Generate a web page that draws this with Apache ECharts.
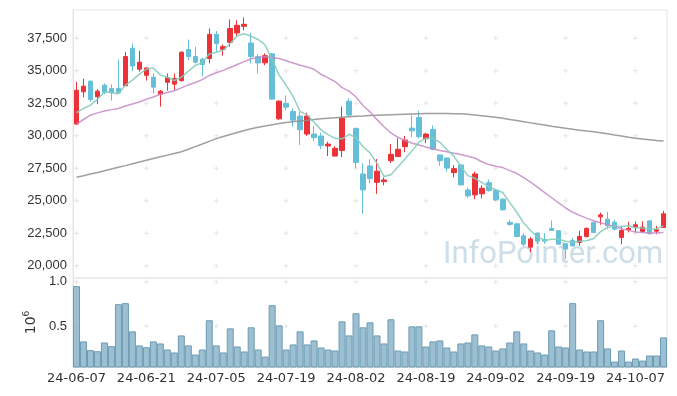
<!DOCTYPE html>
<html>
<head>
<meta charset="utf-8">
<script src="https://cdn.jsdelivr.net/npm/echarts@6/dist/echarts.min.js"></script>
<style>
html,body{margin:0;padding:0;background:#fff;}
#chart{width:677px;height:396px;}
</style>
</head>
<body>
<div id="chart"></div>
<script>
const dates = ['24-06-07','24-06-10','24-06-11','24-06-12','24-06-13','24-06-14','24-06-17','24-06-18','24-06-19','24-06-20',
'24-06-21','24-06-24','24-06-25','24-06-26','24-06-27','24-06-28','24-07-01','24-07-02','24-07-03','24-07-04',
'24-07-05','24-07-08','24-07-09','24-07-10','24-07-11','24-07-12','24-07-15','24-07-16','24-07-17','24-07-18',
'24-07-19','24-07-22','24-07-23','24-07-24','24-07-25','24-07-26','24-07-29','24-07-30','24-07-31','24-08-01',
'24-08-02','24-08-05','24-08-06','24-08-07','24-08-08','24-08-09','24-08-12','24-08-13','24-08-14','24-08-16',
'24-08-19','24-08-20','24-08-21','24-08-22','24-08-23','24-08-26','24-08-27','24-08-28','24-08-29','24-08-30',
'24-09-02','24-09-03','24-09-04','24-09-05','24-09-06','24-09-09','24-09-10','24-09-11','24-09-12','24-09-13',
'24-09-19','24-09-20','24-09-23','24-09-24','24-09-25','24-09-26','24-09-27','24-09-30','24-10-02','24-10-04',
'24-10-07','24-10-08','24-10-10','24-10-11','24-10-14'];

const opens = [30900,33380,34200,33000,33890,33640,33640,33850,36730,35120,
34650,34500,33200,34110,33970,34240,36630,36100,35890,35940,
37800,36650,37190,37910,38420,37140,36090,35610,36300,31300,
32490,31870,31510,30130,30130,29980,29210,28440,28860,32660,
30570,27060,27680,26420,26470,28080,28400,29160,30590,31410,
29770,30490,28520,28290,27160,27750,25830,25450,25530,26390,
25810,25120,23330,23220,22300,21430,22510,22020,22870,22690,
21690,21940,21790,22250,23330,23760,23580,23350,22180,22760,
22970,22640,23450,22660,22940];

const closes = [33500,33815,32790,33430,33320,33300,33300,36095,35370,35660,
35220,33740,33430,34470,34410,36425,36090,35660,35480,37800,
37090,36850,38250,38500,38575,36090,35600,36160,32820,32660,
32200,31200,30460,31510,29850,29240,29360,29030,31350,31590,
27950,25830,26700,27270,26600,28570,28960,29670,30380,29930,
30130,28960,28080,27510,27470,26220,25370,27060,25960,25780,
25070,24300,23180,22250,21660,22050,21890,21890,22710,21660,
21280,21530,22250,22870,22560,23910,23070,22820,22710,22870,
23150,22970,22460,22760,23990];

const highs = [34150,34400,34250,33585,34030,33970,35860,36450,37100,36540,
35250,34790,33510,34790,34790,36500,37400,36850,36000,38250,
38060,37030,38950,38880,39100,37910,36270,36340,36340,32740,
33090,32100,31840,31770,30770,30230,29540,29200,32240,32890,
30600,27880,28190,28210,26800,29360,29810,29980,31570,31920,
30230,30800,28540,28300,27740,27800,26010,27240,26190,26650,
25900,25200,23530,23300,22500,22200,22560,22510,23480,22720,
21720,22120,22690,22950,23400,24090,24140,23530,23070,23380,
23400,23420,23530,23070,24220];

const lows = [30820,32950,32610,32430,33200,32700,33220,33830,34970,34930,
34240,33250,32240,33470,33510,34170,35810,35560,34550,35560,
36450,36160,36850,37600,38110,35560,34790,35430,32780,31200,
31970,30690,29290,29980,29590,28960,28440,28400,28360,31510,
27510,23990,26350,25530,26190,27900,28390,28740,29880,29800,
29430,28880,27680,27240,26800,26180,25220,25120,25170,25700,
24980,24250,23070,22200,21490,21050,21610,21680,22690,21620,
20510,21480,21530,22170,22510,23150,22820,22710,21660,22560,
22560,22560,22400,22430,22900];

// volume in millions of shares (axis unit 10^6)
const volumes = [0.951,0.331,0.233,0.221,0.319,0.278,0.748,0.760,0.444,0.286,
0.266,0.331,0.308,0.240,0.207,0.398,0.286,0.184,0.240,0.568,
0.286,0.207,0.477,0.274,0.218,0.489,0.240,0.161,0.737,0.511,
0.240,0.297,0.444,0.297,0.342,0.263,0.240,0.229,0.556,0.398,
0.647,0.489,0.545,0.398,0.308,0.579,0.229,0.218,0.500,0.500,
0.274,0.331,0.342,0.263,0.218,0.308,0.319,0.410,0.286,0.274,
0.229,0.252,0.319,0.444,0.308,0.229,0.207,0.184,0.455,0.274,
0.263,0.760,0.240,0.218,0.218,0.568,0.252,0.105,0.229,0.105,
0.139,0.116,0.173,0.173,0.376];

const ma5 = [31770,32100,32360,32800,33371,33331,33228,33889,34277,34745,
35129,35217,34684,34504,34254,34495,34965,35411,35613,36291,
36424,36576,37094,37698,37853,37653,37403,36985,35849,34666,
33888,33008,31868,31606,31044,30452,30084,29798,29766,30114,
29856,29150,28684,27868,26870,26994,27620,28214,28836,29502,
29814,29814,29496,28922,28430,27648,26930,26726,26416,26078,
25848,25634,24858,24116,23292,22688,22206,21948,22040,22040,
21886,21814,21886,21918,22098,22624,22932,23046,23014,23076,
22924,22904,22832,22842,23066];

const ma20 = [30900,31250,31580,31760,31910,32010,32100,32290,32440,32600,
32820,32980,33190,33330,33460,33680,33910,34100,34320,34640,
34850,35030,35250,35480,35700,35920,36030,36070,36020,35940,
35770,35600,35420,35290,35110,34730,34450,34170,33700,33430,
32980,32330,31840,31240,30690,30220,29880,29640,29440,29290,
29140,29000,28860,28770,28660,28550,28420,28290,28000,27780,
27650,27550,27320,27110,26780,26430,26030,25630,25230,24840,
24440,24110,23870,23660,23460,23300,23160,23020,22850,22720,
22600,22550,22510,22520,22560];

const ma120 = [26810,26930,27060,27180,27310,27440,27570,27700,27840,27980,
28120,28250,28380,28510,28640,28770,28960,29160,29360,29570,
29780,29940,30100,30250,30400,30540,30650,30750,30850,30940,
31020,31080,31140,31200,31250,31300,31340,31380,31420,31460,
31500,31520,31550,31570,31590,31610,31630,31650,31670,31690,
31710,31720,31720,31710,31700,31690,31650,31600,31540,31480,
31420,31340,31250,31170,31080,30990,30900,30820,30730,30650,
30570,30500,30430,30360,30300,30230,30150,30060,29980,29890,
29810,29750,29700,29640,29590];

const priceTicks = [20000,22500,25000,27500,30000,32500,35000,37500];
const volumeTicks = [0.5,1.0];
const markerCategories = [0,10,20,30,40,50,60,70,80];

const candleData = dates.map((d,i)=>[opens[i],closes[i],lows[i],highs[i]]);
const priceMarkers = [];
markerCategories.forEach(c=>priceTicks.forEach(v=>priceMarkers.push([c,v])));
const volMarkers = [];
markerCategories.forEach(c=>volumeTicks.forEach(v=>volMarkers.push([c,v])));

const plusPath = 'path://M2,0L3,0L3,2L5,2L5,3L3,3L3,5L2,5L2,3L0,3L0,2L2,2Z';
const UP = '#ec3238', DOWN = '#66bfd8';

const chart = echarts.init(document.getElementById('chart'), null, {renderer:'canvas'});
chart.setOption({
  animation:false,
  backgroundColor:'#fff',
  grid:[
    {left:73, right:10, top:10, height:268, show:true, borderColor:'#e4e4e4', borderWidth:1},
    {left:73, right:10, top:278, height:89, show:true, borderColor:'#e4e4e4', borderWidth:1}
  ],
  graphic:[{
    type:'text', left:443, top:240, z:0, silent:true,
    style:{text:'InfoPointer.com', font:'31px Roboto', fill:'rgba(172,200,218,0.6)'}
  }],
  xAxis:[
    {type:'category', gridIndex:0, data:dates, boundaryGap:true,
     axisLine:{show:false}, axisTick:{show:false}, axisLabel:{show:false}, splitLine:{show:false}},
    {type:'category', gridIndex:1, data:dates, boundaryGap:true,
     axisLine:{show:true, lineStyle:{color:'#e4e4e4'}}, axisTick:{show:false},
     axisLabel:{interval:9, color:'#333', fontSize:13, fontFamily:'DejaVu Sans', margin:5},
     splitLine:{show:false}}
  ],
  yAxis:[
    {type:'value', gridIndex:0, min:19055, max:39675, scale:true,
     axisLine:{show:true, lineStyle:{color:'#e4e4e4'}}, axisTick:{show:false},
     axisLabel:{customValues:priceTicks, color:'#333', fontSize:13, fontFamily:'Liberation Sans', margin:6},
     splitLine:{show:false}},
    {type:'value', gridIndex:1, min:0.044, max:1.042,
     name:'{a|10}{b|6}', nameLocation:'middle', nameGap:32, nameRotate:90,
     nameTextStyle:{rich:{a:{fontSize:14, fontFamily:'DejaVu Sans', color:'#333', lineHeight:18},
                          b:{fontSize:9, fontFamily:'DejaVu Sans', color:'#333', verticalAlign:'top', lineHeight:10}}},
     axisLine:{show:true, lineStyle:{color:'#e4e4e4'}}, axisTick:{show:false},
     axisLabel:{customValues:volumeTicks, formatter:v=>v.toFixed(1), color:'#333', fontSize:13, fontFamily:'Liberation Sans', margin:6},
     splitLine:{show:false}}
  ],
  series:[
    {type:'scatter', xAxisIndex:0, yAxisIndex:0, data:priceMarkers, symbol:plusPath, symbolSize:5,
     itemStyle:{color:'#dedede'}, silent:true, z:0},
    {type:'scatter', xAxisIndex:1, yAxisIndex:1, data:volMarkers, symbol:plusPath, symbolSize:5,
     itemStyle:{color:'#dedede'}, silent:true, z:0},
    {type:'candlestick', xAxisIndex:0, yAxisIndex:0, data:candleData, barWidth:5,
     itemStyle:{color:UP, color0:DOWN, borderColor:UP, borderColor0:DOWN, borderWidth:1}},
    {type:'line', xAxisIndex:0, yAxisIndex:0, data:ma120, symbol:'none', smooth:false,
     lineStyle:{color:'#8e8e8e', width:1.5, opacity:0.85}, z:3},
    {type:'line', xAxisIndex:0, yAxisIndex:0, data:ma20, symbol:'none', smooth:false,
     lineStyle:{color:'#c48ac6', width:1.5, opacity:0.85}, z:3},
    {type:'line', xAxisIndex:0, yAxisIndex:0, data:ma5, symbol:'none', smooth:false,
     lineStyle:{color:'#86cbbd', width:1.5, opacity:0.9}, z:3},
    {type:'bar', xAxisIndex:1, yAxisIndex:1, data:volumes, barWidth:7,
     itemStyle:{color:'rgba(128,174,196,0.78)', borderColor:'#6b9bb4', borderWidth:1}}
  ]
});
</script>
</body>
</html>
